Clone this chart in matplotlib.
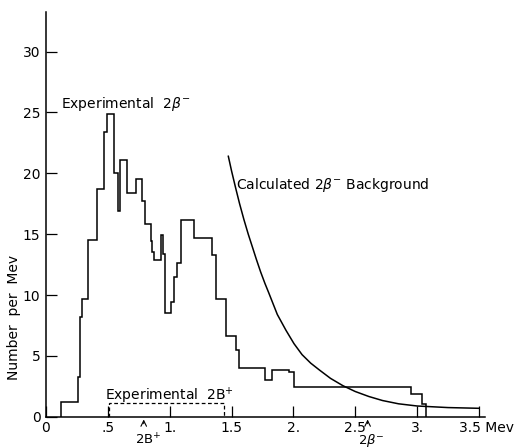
import matplotlib.pyplot as plt
import numpy as np


# experimental 2 beta-minus histogram (bin edges in Mev, counts per Mev)
edges = [0.124, 0.261, 0.275, 0.293, 0.342, 0.415, 0.469, 0.491, 0.550, 0.584,
         0.601, 0.657, 0.725, 0.778, 0.798, 0.846, 0.859, 0.873, 0.932, 0.948,
         0.960, 1.013, 1.035, 1.061, 1.089, 1.196, 1.344, 1.372, 1.453, 1.534,
         1.560, 1.770, 1.827, 1.964, 2.005, 2.948, 3.037, 3.070]
counts = [1.2, 3.3, 8.2, 9.7, 14.5, 18.7, 23.4, 24.9, 20.0, 16.9,
          21.1, 18.4, 19.5, 17.7, 15.8, 14.4, 13.5, 12.9, 14.9, 13.4,
          8.5, 9.45, 11.5, 12.6, 16.2, 14.7, 13.3, 9.7, 6.6, 5.5,
          4.0, 3.0, 3.8, 3.65, 2.47, 1.87, 1.04]

# experimental 2 beta-plus (dashed)
pos_edges = [0.51, 1.44]
pos_counts = [1.1]

# calculated 2 beta-minus background
bg_energy = [1.474, 1.50, 1.533, 1.565, 1.60, 1.635, 1.67, 1.70, 1.735, 1.77,
             1.80, 1.87, 1.94, 2.005, 2.07, 2.14, 2.21, 2.30, 2.40, 2.50,
             2.61, 2.72, 2.85, 3.00, 3.25, 3.50]
bg_value = [21.4, 20.2, 18.8, 17.5, 16.2, 15.0, 13.9, 12.95, 11.9, 10.95,
            10.2, 8.4, 7.1, 6.0, 5.1, 4.4, 3.84, 3.15, 2.55, 2.07,
            1.66, 1.33, 1.06, 0.88, 0.75, 0.69]

xticks = [0, 0.5, 1.0, 1.5, 2.0, 2.5, 3.0, 3.5]
xtick_labels = ["0", ".5", "1.", "1.5", "2.", "2.5", "3.", ""]
yticks = [0, 5, 10, 15, 20, 25, 30]
yticks_labels = ["0", "5", "10", "15", "20", "25", "30"]

fig = plt.figure(figsize=(5.26, 4.48), dpi=100)
ax = fig.add_axes([46 / 526, 1 - 416.7 / 448, 439 / 526, 405 / 448])
ax.set_xlim(0, 3.549)
ax.set_ylim(0, 33.28)

lw = 1.1
ax.stairs(counts, edges, color="black", linewidth=lw)
ax.stairs(pos_counts, pos_edges, color="black", linewidth=0.9, linestyle=(0, (3, 2)))
ax.plot(bg_energy, bg_value, color="black", linewidth=lw)

for s in ("top", "right"):
    ax.spines[s].set_visible(False)
for s in ("left", "bottom"):
    ax.spines[s].set_linewidth(lw)

ax.set_xticks(xticks, xtick_labels)
ax.set_yticks(yticks, yticks_labels)
ax.tick_params(axis="x", direction="in", length=8, width=0.9, labelsize=10, pad=3)
ax.tick_params(axis="y", direction="in", length=8, width=0.9, labelsize=10, pad=4)
fig.text(14 / 526, 1 - 317 / 448, "Number  per  Mev", rotation=90,
         ha="center", va="center", fontsize=10)

ax.text(3.34, -0.01, "3.5 Mev", transform=ax.get_xaxis_transform(),
        ha="left", va="top", fontsize=10)

ax.text(0.125, 25.7, r"Experimental  2$\beta^{-}$", fontsize=10, ha="left", va="center")
ax.text(1.535, 19.05, r"Calculated 2$\beta^{-}$ Background", fontsize=10, ha="left", va="center")
ax.text(0.48, 1.75, r"Experimental  2B$^{+}$", fontsize=10, ha="left", va="center")

# threshold markers below the axis
for e, label in [(0.79, r"2B$^{+}$"), (2.60, r"2$\beta^{-}$")]:
    ax.annotate("", xy=(e, 0), xycoords=("data", "axes fraction"),
                xytext=(0, -7), textcoords="offset points",
                arrowprops=dict(arrowstyle="->", color="black", lw=0.8),
                annotation_clip=False)
    ax.annotate(label, xy=(e, 0), xycoords=("data", "axes fraction"),
                xytext=(3, -11), textcoords="offset points",
                ha="center", va="top", fontsize=9.5, annotation_clip=False)

fig.savefig("out.png", dpi=100)
plt.close(fig)
